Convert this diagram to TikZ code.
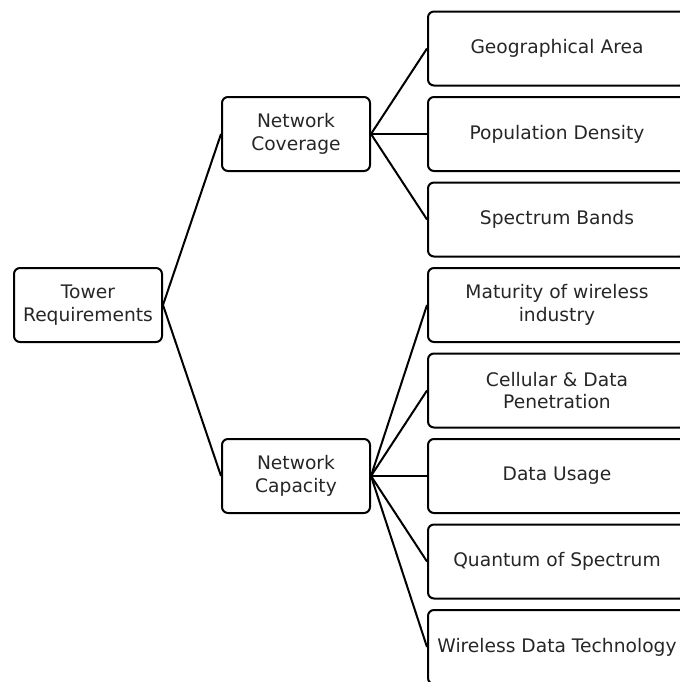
\documentclass[tikz,border=0pt]{standalone}
\usepackage{fontspec}
\setmainfont{DejaVu Sans}
\usetikzlibrary{math}
\usetikzlibrary{positioning}

\begin{document}
\begin{tikzpicture}[x=0.75pt,y=-0.75pt,
    box/.style={draw=black,rectangle,rounded corners=4.5pt,line width=1.5pt,
        align=center,text=black!85,font=\fontsize{14}{17}\selectfont},
    midbox/.style={box,minimum width=111pt,minimum height=55.5pt},
    leafbox/.style={box,minimum width=193.5pt,minimum height=55.5pt},
    link/.style={line width=1.5pt}]
    \useasboundingbox (0,0) rectangle (679,682);
    \tikzmath{  \yd = 85.5 ;
                \xa = 88 ;
                \xb = 296 ;
                \xc = 557 ;
                \ya = 48.5 ;
                \yb = \ya + \yd ;
                \yc = \yb + \yd ;
                \ye = \yc + \yd ;
                \yf = \ye + \yd ;
                \yg = \yf + \yd ;
                \yh = \yg + \yd ;
                \yi = \yh + \yd ;
                }
    \node[midbox] (tower) at (\xa,\ye) {Tower\\Requirements};
    \node[midbox] (cover) at (\xb,\yb) {Network\\Coverage};
    \node[midbox] (capac) at (\xb,\yg) {Network\\Capacity};

    \node[leafbox] (geo) at (\xc,\ya) {Geographical Area};
    \node[leafbox] (pop) at (\xc,\yb) {Population Density};
    \node[leafbox] (spec) at (\xc,\yc) {Spectrum Bands};
    \node[leafbox] (matur) at (\xc,\ye) {Maturity of wireless\\industry};
    \node[leafbox] (cell) at (\xc,\yf) {Cellular \& Data\\Penetration};
    \node[leafbox] (usage) at (\xc,\yg) {Data Usage};
    \node[leafbox] (quant) at (\xc,\yh) {Quantum of Spectrum};
    \node[leafbox] (wdt) at (\xc,\yi) {Wireless Data Technology};

    \draw[link] (tower.east) -- (cover.west);
    \draw[link] (tower.east) -- (capac.west);
    \draw[link] (cover.east) -- (geo.west);
    \draw[link] (cover.east) -- (pop.west);
    \draw[link] (cover.east) -- (spec.west);
    \draw[link] (capac.east) -- (matur.west);
    \draw[link] (capac.east) -- (cell.west);
    \draw[link] (capac.east) -- (usage.west);
    \draw[link] (capac.east) -- (quant.west);
    \draw[link] (capac.east) -- (wdt.west);
\end{tikzpicture}
\end{document}
